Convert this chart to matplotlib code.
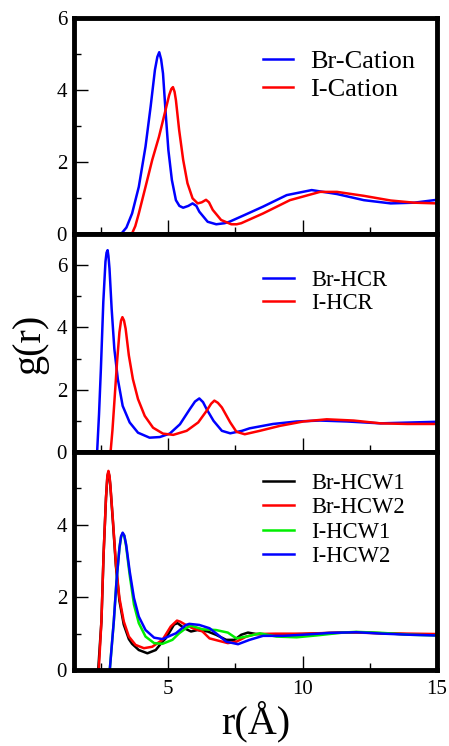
import matplotlib
matplotlib.use("Agg")
import matplotlib.pyplot as plt

plt.rcParams['font.family'] = ['Liberation Serif', 'DejaVu Serif']
plt.rcParams['mathtext.fontset'] = 'stix'

# ---------------- data ----------------
# Top panel
br_cat_r = [3.25, 3.45, 3.66, 3.91, 4.16, 4.35, 4.51, 4.60, 4.67, 4.74, 4.81, 4.91, 5.01, 5.14, 5.29, 5.42, 5.56, 5.75, 5.91, 6.05, 6.16, 6.47, 6.79, 7.10, 7.28, 7.85, 8.53, 9.41, 10.34, 11.28, 12.28, 13.28, 14.15, 15.0]
br_cat_g = [0.0, 0.18, 0.57, 1.31, 2.43, 3.54, 4.56, 4.92, 5.05, 4.85, 4.46, 3.35, 2.33, 1.50, 0.94, 0.78, 0.73, 0.78, 0.85, 0.78, 0.62, 0.34, 0.27, 0.30, 0.34, 0.53, 0.76, 1.08, 1.22, 1.11, 0.94, 0.85, 0.87, 0.95]
i_cat_r = [3.65, 3.78, 3.91, 4.16, 4.41, 4.66, 4.89, 5.04, 5.12, 5.18, 5.24, 5.29, 5.41, 5.56, 5.72, 5.91, 6.10, 6.25, 6.41, 6.52, 6.66, 6.97, 7.35, 7.55, 7.72, 8.53, 9.53, 10.65, 11.28, 12.28, 13.28, 14.15, 15.0]
i_cat_g = [0.0, 0.22, 0.57, 1.31, 2.06, 2.70, 3.40, 3.86, 4.03, 4.08, 3.95, 3.72, 2.89, 2.06, 1.41, 0.99, 0.85, 0.88, 0.95, 0.88, 0.67, 0.39, 0.27, 0.27, 0.30, 0.57, 0.94, 1.17, 1.17, 1.06, 0.93, 0.87, 0.85]

# Middle panel
br_hcr_r = [2.36, 2.43, 2.50, 2.59, 2.67, 2.71, 2.75, 2.78, 2.82, 2.90, 3.00, 3.13, 3.31, 3.57, 3.88, 4.31, 4.69, 5.06, 5.44, 5.81, 6.0, 6.16, 6.30, 6.43, 6.69, 7.0, 7.31, 7.75, 8.03, 8.9, 9.78, 10.65, 11.65, 12.9, 14.15, 15.0]
br_hcr_g = [0.0, 1.2, 2.67, 4.82, 6.11, 6.40, 6.48, 6.30, 5.89, 4.60, 3.31, 2.34, 1.48, 0.95, 0.62, 0.46, 0.48, 0.59, 0.89, 1.38, 1.62, 1.72, 1.60, 1.38, 1.00, 0.68, 0.60, 0.68, 0.76, 0.90, 0.98, 1.01, 0.98, 0.92, 0.95, 0.97]
i_hcr_r = [2.86, 2.93, 3.0, 3.10, 3.19, 3.25, 3.30, 3.36, 3.42, 3.54, 3.69, 3.88, 4.13, 4.44, 4.81, 5.19, 5.69, 6.12, 6.43, 6.60, 6.72, 6.85, 7.0, 7.31, 7.54, 7.85, 8.41, 9.16, 10.03, 10.9, 11.9, 12.9, 13.9, 15.0]
i_hcr_g = [0.0, 0.7, 1.59, 2.88, 3.85, 4.22, 4.33, 4.22, 3.96, 3.10, 2.34, 1.70, 1.16, 0.78, 0.59, 0.55, 0.68, 0.95, 1.32, 1.55, 1.65, 1.58, 1.43, 0.95, 0.65, 0.57, 0.68, 0.84, 0.98, 1.05, 1.01, 0.92, 0.90, 0.90]

# Bottom panel
br_w1_r = [2.40, 2.52, 2.60, 2.69, 2.74, 2.78, 2.82, 2.85, 2.95, 3.06, 3.19, 3.35, 3.54, 3.66, 3.91, 4.23, 4.54, 4.79, 4.91, 5.10, 5.22, 5.35, 5.60, 5.85, 6.10, 6.47, 6.78, 7.16, 7.47, 7.72, 7.97, 8.28, 9.0, 10.0, 11.0, 12.0, 13.0, 14.0, 15.0]
br_w1_g = [0.0, 1.34, 3.18, 4.74, 5.30, 5.45, 5.30, 5.08, 4.05, 2.85, 1.90, 1.25, 0.85, 0.72, 0.55, 0.46, 0.55, 0.78, 0.87, 1.10, 1.25, 1.29, 1.15, 1.06, 1.10, 1.06, 0.97, 0.83, 0.83, 0.97, 1.03, 0.99, 0.97, 0.99, 1.02, 1.04, 1.01, 0.98, 0.97]
br_w2_r = [2.42, 2.52, 2.60, 2.69, 2.74, 2.78, 2.82, 2.85, 2.95, 3.06, 3.19, 3.35, 3.54, 3.79, 4.10, 4.41, 4.79, 5.10, 5.33, 5.45, 5.66, 5.91, 6.28, 6.54, 6.85, 7.22, 7.54, 7.91, 8.28, 9.0, 10.0, 11.0, 12.0, 13.0, 14.0, 15.0]
br_w2_g = [0.0, 1.34, 3.18, 4.74, 5.35, 5.48, 5.35, 5.11, 4.10, 2.90, 1.98, 1.34, 0.92, 0.69, 0.60, 0.64, 0.83, 1.20, 1.36, 1.33, 1.24, 1.15, 1.06, 0.87, 0.81, 0.74, 0.78, 0.92, 0.99, 1.0, 1.0, 1.02, 1.03, 1.01, 1.0, 0.99]
i_w1_r = [2.83, 2.98, 3.08, 3.19, 3.25, 3.31, 3.37, 3.44, 3.57, 3.73, 3.91, 4.16, 4.48, 4.79, 5.16, 5.41, 5.66, 5.85, 6.28, 6.78, 7.22, 7.54, 7.91, 8.41, 9.03, 9.78, 10.5, 11.5, 12.0, 13.0, 14.0, 15.0]
i_w1_g = [0.0, 1.34, 2.44, 3.36, 3.65, 3.76, 3.70, 3.40, 2.62, 1.80, 1.29, 0.92, 0.74, 0.72, 0.83, 1.01, 1.15, 1.22, 1.12, 1.10, 1.03, 0.87, 0.92, 1.01, 0.92, 0.90, 0.95, 1.03, 1.05, 1.02, 0.97, 0.95]
i_w2_r = [2.83, 2.98, 3.08, 3.19, 3.25, 3.31, 3.37, 3.44, 3.57, 3.73, 3.91, 4.16, 4.48, 4.79, 5.16, 5.29, 5.66, 5.79, 6.16, 6.54, 6.85, 7.16, 7.60, 8.03, 8.53, 9.28, 10.0, 11.0, 12.0, 13.0, 14.0, 15.0]
i_w2_g = [0.0, 1.34, 2.44, 3.36, 3.68, 3.78, 3.70, 3.45, 2.72, 1.98, 1.47, 1.10, 0.89, 0.85, 0.97, 1.01, 1.24, 1.27, 1.24, 1.15, 0.97, 0.78, 0.71, 0.83, 0.94, 0.94, 0.97, 1.02, 1.04, 1.0, 0.97, 0.95]

x_major = [5, 10, 15]
x_minor = [2.5, 7.5, 12.5]

# ---------------- figure ----------------
fig = plt.figure(figsize=(4.49, 7.46), dpi=100)
L, W = 74/449, (437-74)/449
ax1 = fig.add_axes([L, 1-234/746, W, 216/746])
ax2 = fig.add_axes([L, 1-452/746, W, 218/746])
ax3 = fig.add_axes([L, 1-670/746, W, 218/746])

lw = 1.8
ax1.plot(br_cat_r, br_cat_g, color='#0000ff', lw=lw, label='Br-Cation')
ax1.plot(i_cat_r, i_cat_g, color='#ff0000', lw=lw, label='I-Cation')
ax2.plot(br_hcr_r, br_hcr_g, color='#0000ff', lw=lw, label='Br-HCR')
ax2.plot(i_hcr_r, i_hcr_g, color='#ff0000', lw=lw, label='I-HCR')
ax3.plot(br_w1_r, br_w1_g, color='#000000', lw=lw, label='Br-HCW1')
ax3.plot(br_w2_r, br_w2_g, color='#ff0000', lw=lw, label='Br-HCW2')
ax3.plot(i_w1_r, i_w1_g, color='#00ee00', lw=lw, label='I-HCW1')
ax3.plot(i_w2_r, i_w2_g, color='#0000ff', lw=lw, label='I-HCW2')

ylims = [(0, 6), (0, 7), (0, 6)]
yticks = [[0, 2, 4, 6], [0, 2, 4, 6], [0, 2, 4]]
yminor = [[1, 3, 5], [1, 3, 5], [1, 3, 5]]
for ax, yl, yt, ym in zip([ax1, ax2, ax3], ylims, yticks, yminor):
    ax.set_xlim(1.5, 15)
    ax.set_ylim(*yl)
    ax.set_xticks(x_major)
    ax.set_xticks(x_minor, minor=True)
    ax.set_yticks(yt)
    ax.set_yticks(ym, minor=True)
    for s in ax.spines.values():
        s.set_linewidth(3.5)
    ax.tick_params(which='major', direction='in', length=10, width=1.0,
                   labelsize=15, top=False, right=False, pad=5)
    ax.tick_params(which='minor', direction='in', length=5, width=1.0,
                   top=False, right=False)
    ax.tick_params(axis='x', pad=7)
    if ax is not ax3:
        ax.tick_params(axis='x', labelbottom=False)

ax1.legend(loc='upper left', bbox_to_anchor=(0.52, 0.852), frameon=False,
           fontsize=19, handlelength=1.15, handletextpad=0.65,
           labelspacing=0.17, borderpad=0, borderaxespad=0)
ax2.legend(loc='upper left', bbox_to_anchor=(0.52, 0.836), frameon=False,
           fontsize=16.3, handlelength=1.4, handletextpad=0.75,
           labelspacing=0.08, borderpad=0, borderaxespad=0)
ax3.legend(loc='upper left', bbox_to_anchor=(0.52, 0.905), frameon=False,
           fontsize=16.3, handlelength=1.4, handletextpad=0.75,
           labelspacing=0.15, borderpad=0, borderaxespad=0)

fig.text(30/449, 1-344/746, 'g(r)', rotation=90, fontsize=29,
         ha='center', va='center')
fig.text(256/449, 1-722/746, 'r(Å)', fontsize=29, ha='center', va='center')

fig.savefig('out.png', dpi=100)
